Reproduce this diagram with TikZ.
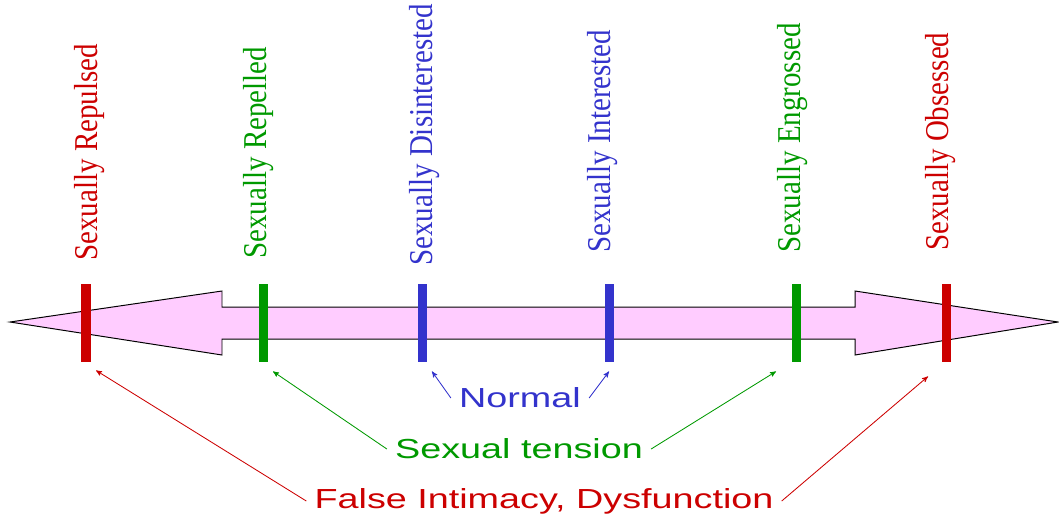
\documentclass[tikz,border=0pt]{standalone}
\usepackage{fontspec}
\setmainfont{Liberation Serif}
\newfontfamily\grpfont{Liberation Sans}
\usetikzlibrary{arrows,calc}
\definecolor{dysred}{RGB}{204,0,0}
\definecolor{tengreen}{RGB}{0,153,0}
\definecolor{normblue}{RGB}{51,51,204}
\definecolor{arrowpink}{RGB}{255,204,255}

\begin{document}
\begin{tikzpicture}[x=0.025cm, y=-0.025cm, >=stealth', semithick]
    \tikzstyle{tick}=[fill, inner sep=0pt, minimum width=0.225cm, minimum height=1.95cm]
    \tikzstyle{scalelabel}=[rotate=90, yscale=1.15, anchor=west, inner sep=0pt, font=\fontsize{20.6}{24}\selectfont]
    \tikzstyle{grouplabel}=[xscale=1.37, inner xsep=4pt, inner ysep=0pt, font=\grpfont\fontsize{19.6}{23}\selectfont]
    \tikzstyle{pointer}=[->, line width=0.6pt]
    \useasboundingbox (0,0) rectangle (1059,516);

    % the double arrow
    \draw[fill=arrowpink, line width=0.7pt] (10,322) -- (222,291) -- (222,307) -- (855,307)
        -- (855,291) -- (1058,322) -- (855,355) -- (855,339) -- (222,339) -- (222,355) -- cycle;

    % ticks
    \node[tick, dysred]   (repulsed)     at (86,323)  {};
    \node[tick, tengreen] (repelled)     at (263,323) {};
    \node[tick, normblue] (disinterest)  at (422,323) {};
    \node[tick, normblue] (interest)     at (609,323) {};
    \node[tick, tengreen] (engrossed)    at (796,323) {};
    \node[tick, dysred]   (obsessed)     at (946,323) {};

    % labels on the scale
    \node[scalelabel, text=dysred]   (lrepulsed)    at (90,261)  {Sexually Repulsed};
    \node[scalelabel, text=tengreen] (lrepelled)    at (259,259) {Sexually Repelled};
    \node[scalelabel, text=normblue] (ldisinterest) at (425,266) {Sexually Disinterested};
    \node[scalelabel, text=normblue] (linterest)    at (603,253) {Sexually Interested};
    \node[scalelabel, text=tengreen] (lengrossed)   at (793,253) {Sexually Engrossed};
    \node[scalelabel, text=dysred]   (lobsessed)    at (941,251) {Sexually Obsessed};

    % groups
    \node[grouplabel, text=normblue] (normal)  at (520,398) {Normal};
    \node[grouplabel, text=tengreen] (tension) at (519,449) {Sexual tension};
    \node[grouplabel, text=dysred]   (false)   at (544,501) {False Intimacy, Dysfunction};

    \path[pointer, normblue]
(normal.west) edge ($(disinterest.south)+(10,9)$)
(normal.east) edge ($(interest.south)+(0,9)$);
    \path[pointer, tengreen]
(tension.west) edge ($(repelled.south)+(10,9)$)
(tension.east) edge ($(engrossed.south)+(-20,9)$);
    \path[pointer, dysred]
(false.west) edge ($(repulsed.south)+(10,8)$)
(false.east) edge ($(obsessed.south)+(-18,14)$);
\end{tikzpicture}
\end{document}
